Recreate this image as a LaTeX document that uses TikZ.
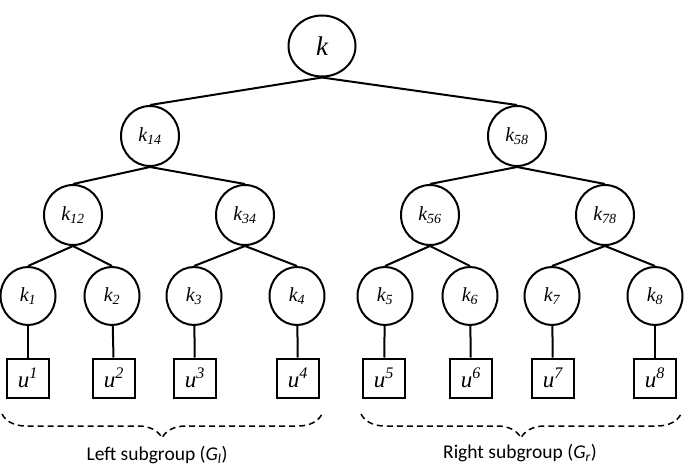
\documentclass[tikz,border=0pt]{standalone}
\usepackage{fontspec}
\setmainfont{Liberation Serif}
\newfontfamily\captionfont{Carlito}
\usetikzlibrary{shapes.geometric,decorations.pathreplacing,positioning}

\begin{document}
\begin{tikzpicture}[
  x=1pt, y=-1pt,
  key/.style={ellipse, draw, line width=2pt, inner sep=0pt, minimum width=58pt, minimum height=60pt, font=\fontsize{20}{20}\selectfont\itshape},
  rootkey/.style={key, minimum width=67pt, minimum height=61pt, font=\fontsize{27}{27}\selectfont\itshape},
  leafkey/.style={key, minimum width=55pt, minimum height=58pt},
  member/.style={rectangle, draw, line width=2pt, inner sep=0pt, minimum width=42pt, minimum height=39pt, font=\fontsize{23}{23}\selectfont\itshape},
  link/.style={line width=2pt},
  group brace/.style={dash pattern=on 6pt off 4pt, line width=1.5pt, decorate, decoration={brace, mirror, amplitude=24pt}},
  group label/.style={font=\captionfont\fontsize{19.5}{19.5}\selectfont}
]
  \useasboundingbox (0,0) rectangle (689,468);

  % key tree
  \node[rootkey] (k) at (322, 46) {k};

  \node[key] (k14) at (150, 136) {k\textsubscript{14}};
  \node[key] (k58) at (517, 136) {k\textsubscript{58}};

  \node[key] (k12) at (73, 215)  {k\textsubscript{12}};
  \node[key] (k34) at (245, 215) {k\textsubscript{34}};
  \node[key] (k56) at (430, 215) {k\textsubscript{56}};
  \node[key] (k78) at (605, 215) {k\textsubscript{78}};

  \node[leafkey] (k1) at (28, 296)  {k\textsubscript{1}};
  \node[leafkey] (k2) at (112, 296) {k\textsubscript{2}};
  \node[leafkey] (k3) at (194, 296) {k\textsubscript{3}};
  \node[leafkey] (k4) at (297, 296) {k\textsubscript{4}};
  \node[leafkey] (k5) at (385, 296) {k\textsubscript{5}};
  \node[leafkey] (k6) at (470, 296) {k\textsubscript{6}};
  \node[leafkey] (k7) at (552, 296) {k\textsubscript{7}};
  \node[leafkey] (k8) at (655, 296) {k\textsubscript{8}};

  % group members
  \node[member] (u1) at (28, 378)  {u\textsuperscript{1}};
  \node[member] (u2) at (114, 378) {u\textsuperscript{2}};
  \node[member] (u3) at (195, 378) {u\textsuperscript{3}};
  \node[member] (u4) at (298, 378) {u\textsuperscript{4}};
  \node[member] (u5) at (384, 378) {u\textsuperscript{5}};
  \node[member] (u6) at (471, 378) {u\textsuperscript{6}};
  \node[member] (u7) at (553, 378) {u\textsuperscript{7}};
  \node[member] (u8) at (655, 378) {u\textsuperscript{8}};

  \draw[link] (k.south) -- (k14.north);
  \draw[link] (k.south) -- (k58.north);
  \draw[link] (k14.south) -- (k12.north);
  \draw[link] (k14.south) -- (k34.north);
  \draw[link] (k58.south) -- (k56.north);
  \draw[link] (k58.south) -- (k78.north);
  \draw[link] (k12.south) -- (k1.north);
  \draw[link] (k12.south) -- (k2.north);
  \draw[link] (k34.south) -- (k3.north);
  \draw[link] (k34.south) -- (k4.north);
  \draw[link] (k56.south) -- (k5.north);
  \draw[link] (k56.south) -- (k6.north);
  \draw[link] (k78.south) -- (k7.north);
  \draw[link] (k78.south) -- (k8.north);

  \draw[link] (k1) -- (u1);
  \draw[link] (k2) -- (u2);
  \draw[link] (k3) -- (u3);
  \draw[link] (k4) -- (u4);
  \draw[link] (k5) -- (u5);
  \draw[link] (k6) -- (u6);
  \draw[link] (k7) -- (u7);
  \draw[link] (k8) -- (u8);

  % subgroups
  \coordinate (leftA) at (2, 414);
  \coordinate (leftB) at (322, 414);
  \coordinate (rightA) at (361, 414);
  \coordinate (rightB) at (681, 414);
  \draw[group brace] (leftA) -- (leftB);
  \draw[group brace] (rightA) -- (rightB);

  \node[group label] (leftlabel) at (157, 455) {Left subgroup (\textit{G}\textsubscript{\textit{l}})};
  \node[group label] (rightlabel) at (520, 453) {Right subgroup (\textit{G}\textsubscript{\textit{r}})};
\end{tikzpicture}
\end{document}
